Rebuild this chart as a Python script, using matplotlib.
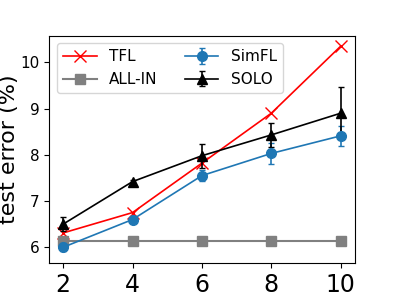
import matplotlib
matplotlib.use("Agg")
import matplotlib.pyplot as plt

# number of parties
x = [2, 4, 6, 8, 10]

tfl = [6.31, 6.75, 7.82, 8.90, 10.35]
allin = [6.13, 6.13, 6.13, 6.13, 6.13]
simfl = [6.00, 6.60, 7.55, 8.03, 8.41]
simfl_err = [0.09, 0.08, 0.12, 0.23, 0.21]
solo = [6.50, 7.42, 7.98, 8.43, 8.90]
solo_err = [0.15, 0.03, 0.26, 0.26, 0.56]

fig, ax = plt.subplots(figsize=(3.94, 2.96), dpi=100)
ax.plot(x, tfl, color="red", marker="x", markersize=8, linewidth=1.2, label="TFL")
ax.plot(x, allin, color="gray", marker="s", markersize=7, linewidth=1.5, label="ALL-IN")
ax.errorbar(x, simfl, yerr=simfl_err, color="tab:blue", marker="o", markersize=7,
            linewidth=1.2, capsize=2, label="SimFL")
ax.errorbar(x, solo, yerr=solo_err, color="black", marker="^", markersize=7,
            linewidth=1.2, capsize=2, label="SOLO")

ax.set_ylim(5.65, 10.58)
ax.set_xticks(x)
ax.set_yticks([6, 7, 8, 9, 10])
ax.tick_params(axis="x", labelsize=17)
ax.tick_params(axis="y", labelsize=11)
ax.set_ylabel("test error (%)", fontsize=16)
ax.yaxis.set_label_coords(-0.1, 0.5)
ax.legend(ncol=2, loc="upper left", fontsize=11, handlelength=2.2, columnspacing=1.8)

fig.subplots_adjust(left=0.125, right=0.9, top=0.88, bottom=0.11)
fig.savefig("out.png", dpi=100)
